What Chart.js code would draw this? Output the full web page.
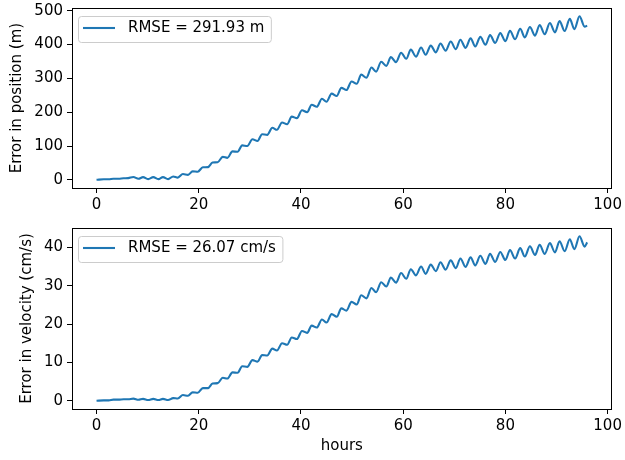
<!DOCTYPE html>
<html>
<head>
<meta charset="utf-8">
<script src="https://cdn.jsdelivr.net/npm/chart.js@4.4.1/dist/chart.umd.min.js"></script>
<style>
  html, body { margin: 0; padding: 0; background: #fff; overflow: hidden; }
  #wrap { position: relative; width: 625px; height: 460px; background: #fff; }
  canvas { position: absolute; left: 0; }
  #c1 { top: -5px; }
  #c2 { top: 215px; }
</style>
</head>
<body>
<div id="wrap">
  <canvas id="c1" width="625" height="220"></canvas>
  <canvas id="c2" width="625" height="245"></canvas>
</div>
<script>
// ---- data ----
const hours = [0, 1.4, 2.4, 3.3, 4.3, 5.3, 6.2, 7.2, 8.2, 9.1,
  10.1, 11.1, 12.1, 13.0, 14.0, 15.0, 15.9, 16.9, 17.9, 18.8,
  19.8, 20.8, 21.8, 22.7, 23.7, 24.7, 25.6, 26.6, 27.6, 28.5,
  29.5, 30.5, 31.5, 32.4, 33.4, 34.4, 35.3, 36.3, 37.3, 38.2,
  39.2, 40.2, 41.2, 42.1, 43.1, 44.1, 45.0, 46.0, 47.0, 47.9,
  48.9, 49.9, 50.9, 51.8, 52.8, 53.8, 54.7, 55.7, 56.7, 57.6,
  58.6, 59.6, 60.6, 61.5, 62.5, 63.5, 64.4, 65.4, 66.4, 67.3,
  68.3, 69.3, 70.3, 71.2, 72.2, 73.2, 74.1, 75.1, 76.1, 77.0,
  78.0, 79.0, 80.0, 80.9, 81.9, 82.9, 83.8, 84.8, 85.8, 86.7,
  87.7, 88.7, 89.7, 90.6, 91.6, 92.6, 93.5, 94.5, 95.5, 96.0];

const positionError = [0, 1.5, 1.5, 3, 3, 4.5, 5, 8.5, 3, 8,
  2, 8, 2, 8, 2, 10, 6.5, 17, 14.5, 25,
  24, 37, 37.5, 51, 52, 68, 65, 84, 83, 102,
  100, 120, 115, 135, 133, 154, 148, 169.5, 164.5, 187,
  182.4, 205.7, 200, 222, 216, 240, 231, 255, 248, 272,
  265.5, 291, 284, 311, 302, 332, 320, 349, 337, 363,
  348, 376, 358, 385, 364.5, 391.5, 370, 397, 377, 403,
  382, 409, 386.6, 414.4, 390.4, 418.4, 394.2, 422.7, 399.3, 428,
  405, 434, 410, 440.7, 415.7, 446.7, 421.4, 452, 426.5, 458,
  431, 463.7, 436, 469.5, 440, 476, 445.5, 484, 453, 456];

const velocityError = [0, 0.1, 0.1, 0.3, 0.3, 0.4, 0.4, 0.55, 0.25, 0.5,
  0.2, 0.5, 0.2, 0.5, 0.2, 0.7, 0.6, 1.5, 1.3, 2.2,
  2.1, 3.3, 3.3, 4.5, 4.6, 6.0, 5.8, 7.4, 7.3, 9.0,
  8.85, 10.6, 10.2, 11.9, 11.8, 13.6, 13.1, 15.0, 14.6, 16.5,
  16.1, 18.2, 17.7, 19.6, 19.1, 21.2, 20.4, 22.6, 21.9, 24.1,
  23.5, 25.8, 25.1, 27.5, 26.7, 29.4, 28.3, 30.9, 29.8, 32.1,
  30.8, 33.3, 31.8, 34.3, 32.7, 35.0, 33.1, 35.5, 33.8, 36.1,
  34.2, 36.6, 34.6, 37.1, 34.9, 37.4, 35.3, 37.8, 35.7, 38.3,
  36.2, 38.8, 36.7, 39.3, 37.1, 39.8, 37.6, 40.3, 38.0, 40.7,
  38.3, 41.1, 38.7, 41.6, 39.0, 42.1, 39.5, 42.9, 40.2, 41.3];

const hourTicks = [0, 20, 40, 60, 80, 100];
const positionTicks = [0, 100, 200, 300, 400, 500];
const velocityTicks = [0, 10, 20, 30, 40];

const positionLabel = 'RMSE = 291.93 m';
const velocityLabel = 'RMSE = 26.07 cm/s';
const positionTitle = 'Error in position (m)';
const velocityTitle = 'Error in velocity (cm/s)';
const xTitle = 'hours';

// ---- styling ----
const FONT = 'DejaVu Sans';
const FS = 15;
const BLUE = '#1f77b4';

const framePlugin = {
  id: 'frame',
  afterDatasetsDraw(chart) {
    const { ctx, chartArea: a } = chart;
    ctx.save();
    ctx.strokeStyle = '#000';
    ctx.lineWidth = 1;
    ctx.strokeRect(Math.round(a.left) + 0.5, Math.round(a.top) + 0.5,
                   Math.round(a.right - a.left) - 1, Math.round(a.bottom - a.top));
    ctx.restore();
  }
};

const legendPlugin = {
  id: 'mplLegend',
  afterDraw(chart) {
    const { ctx, chartArea: a } = chart;
    const ds = chart.data.datasets[0];
    ctx.save();
    ctx.font = FS + 'px "' + FONT + '"';
    const tw = ctx.measureText(ds.label).width;
    const x0 = a.left + 6.5, y0 = a.top + 8.5, h = 26;
    const w = 49.5 + tw + 7;
    const r = 3;
    ctx.beginPath();
    ctx.moveTo(x0 + r, y0);
    ctx.lineTo(x0 + w - r, y0);
    ctx.arcTo(x0 + w, y0, x0 + w, y0 + r, r);
    ctx.lineTo(x0 + w, y0 + h - r);
    ctx.arcTo(x0 + w, y0 + h, x0 + w - r, y0 + h, r);
    ctx.lineTo(x0 + r, y0 + h);
    ctx.arcTo(x0, y0 + h, x0, y0 + h - r, r);
    ctx.lineTo(x0, y0 + r);
    ctx.arcTo(x0, y0, x0 + r, y0, r);
    ctx.closePath();
    ctx.fillStyle = 'rgba(255,255,255,0.8)';
    ctx.fill();
    ctx.strokeStyle = '#cccccc';
    ctx.lineWidth = 1;
    ctx.stroke();
    const ly = a.top + 20;
    ctx.beginPath();
    ctx.moveTo(a.left + 11, ly);
    ctx.lineTo(a.left + 43, ly);
    ctx.strokeStyle = ds.borderColor;
    ctx.lineWidth = 2.1;
    ctx.stroke();
    ctx.fillStyle = '#000';
    ctx.textBaseline = 'middle';
    ctx.textAlign = 'left';
    ctx.fillText(ds.label, a.left + 56, ly + 0.5);
    ctx.restore();
  }
};

function makeChart(canvasId, values, label, yTicks, yMin, yMax, yTitle, yTitlePad, xAxisHeight, padTop, showXTitle) {
  const pts = hours.map((h, i) => ({ x: h, y: values[i] }));
  return new Chart(document.getElementById(canvasId), {
    type: 'line',
    data: {
      datasets: [{
        label: label,
        data: pts,
        borderColor: BLUE,
        backgroundColor: BLUE,
        borderWidth: 2.1,
        pointRadius: 0,
        fill: false,
        cubicInterpolationMode: 'monotone',
        borderCapStyle: 'butt',
        borderJoinStyle: 'round'
      }]
    },
    options: {
      responsive: false,
      animation: false,
      devicePixelRatio: 1,
      layout: { padding: { left: 0, right: 10, top: padTop, bottom: 0 } },
      plugins: { legend: { display: false }, tooltip: { enabled: false } },
      scales: {
        x: {
          type: 'linear',
          min: -4.8,
          max: 100.8,
          afterBuildTicks(s) { s.ticks = hourTicks.map(v => ({ value: v })); },
          afterFit(s) { s.height = xAxisHeight; },
          grid: { display: true, drawOnChartArea: false, drawTicks: true, tickLength: 5, color: '#000', lineWidth: 1 },
          border: { display: false },
          ticks: { color: '#000', font: { family: FONT, size: FS }, padding: 3, maxRotation: 0, autoSkip: false },
          title: {
            display: showXTitle, text: xTitle, color: '#000',
            font: { family: FONT, size: FS }, padding: { top: 0, bottom: 4.5 }
          }
        },
        y: {
          type: 'linear',
          min: yMin,
          max: yMax,
          afterBuildTicks(s) { s.ticks = yTicks.map(v => ({ value: v })); },
          afterFit(s) { s.width = 72; },
          grid: { display: true, drawOnChartArea: false, drawTicks: true, tickLength: 5, color: '#000', lineWidth: 1 },
          border: { display: false },
          ticks: { color: '#000', font: { family: FONT, size: FS }, padding: 4 },
          title: {
            display: true, text: yTitle, color: '#000',
            font: { family: FONT, size: FS }, padding: { top: yTitlePad, bottom: 0 }
          }
        }
      }
    },
    plugins: [framePlugin, legendPlugin]
  });
}

makeChart('c1', positionError, positionLabel, positionTicks, -24.2, 508.2, positionTitle, 8.5, 27, 9, false);
makeChart('c2', velocityError, velocityLabel, velocityTicks, -2.145, 45.05, velocityTitle, 18.5, 51, 10, true);
</script>
</body>
</html>
